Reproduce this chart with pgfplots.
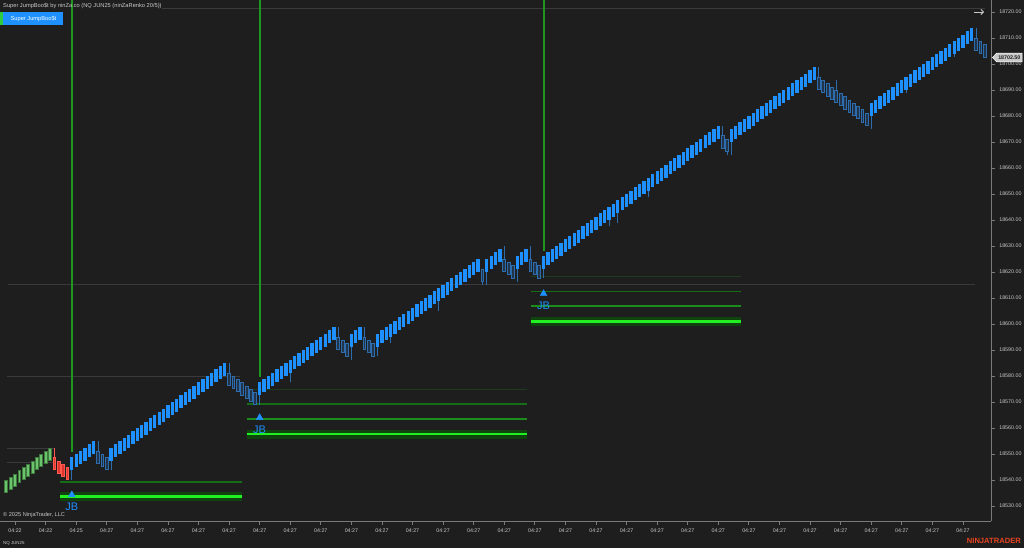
\documentclass[border=0pt]{standalone}
\usepackage{fontspec}
\setmainfont{Liberation Sans}
\usepackage{pgfplots}
\pgfplotsset{compat=1.18}
\usepackage{pgfplotstable}
\usetikzlibrary{arrows.meta}

\definecolor{bg}{HTML}{1E1E1E}
\definecolor{barblue}{HTML}{1E90FF}
\definecolor{holline}{HTML}{2D6CAD}
\definecolor{holfill}{HTML}{22344A}
\definecolor{bargreen}{HTML}{6CC46C}
\definecolor{greenedge}{HTML}{3E7A3E}
\definecolor{barred}{HTML}{E0342E}
\definecolor{rededge}{HTML}{FF5A50}
\definecolor{vgreen}{HTML}{1F961F}
\definecolor{lfaint}{HTML}{203A20}
\definecolor{lmid}{HTML}{156E15}
\definecolor{lline}{HTML}{1C8C1C}
\definecolor{lband}{HTML}{0F440F}
\definecolor{lbright}{HTML}{22F022}
\definecolor{lvl}{HTML}{3A3A3D}
\definecolor{axisgray}{HTML}{7A7A7A}
\definecolor{txt}{HTML}{C8C8C8}
\definecolor{ntorange}{HTML}{E8441E}
\definecolor{btngreen}{HTML}{2ECC40}

% every brick body spans 5 price points = 13pt on this axis (2.6pt per point)
\pgfdeclareplotmark{brickfill}{%
  \pgfpathrectangle{\pgfpoint{-1.65pt}{0pt}}{\pgfpoint{3.3pt}{13pt}}%
  \pgfusepathqfill}
\pgfdeclareplotmark{brickline}{%
  \pgfpathrectangle{\pgfpoint{-1.4pt}{0.4pt}}{\pgfpoint{2.8pt}{12.2pt}}%
  \pgfusepathqfillstroke}

% green up bricks: x, body low, body high
\pgfplotstableread{
x lo hi
0 18535 18540
1 18536.25 18541.25
2 18537.5 18542.5
3 18538.75 18543.75
4 18540 18545
5 18541.25 18546.25
6 18542.5 18547.5
7 18543.75 18548.75
8 18545 18550
9 18546.25 18551.25
10 18547.5 18552.5
}\greenbars

% red down bricks
\pgfplotstableread{
x lo hi
11 18543.75 18548.75
12 18542.5 18547.5
13 18541.25 18546.25
14 18540 18545
}\redbars

% hollow (down) bricks
\pgfplotstableread{
x lo hi
21 18546.25 18551.25
22 18545 18550
23 18543.75 18548.75
51 18576.25 18581.25
52 18575 18580
53 18573.75 18578.75
54 18572.5 18577.5
55 18571.25 18576.25
56 18570 18575
57 18568.75 18573.75
76 18590 18595
77 18588.75 18593.75
78 18587.5 18592.5
82 18590 18595
83 18588.75 18593.75
84 18587.5 18592.5
109 18616.25 18621.25
114 18620 18625
115 18618.75 18623.75
116 18617.5 18622.5
120 18620 18625
121 18618.75 18623.75
122 18617.5 18622.5
164 18667.5 18672.5
165 18666.25 18671.25
186 18690 18695
187 18688.75 18693.75
188 18687.5 18692.5
189 18686.25 18691.25
190 18685 18690
191 18683.75 18688.75
192 18682.5 18687.5
193 18681.25 18686.25
194 18680 18685
195 18678.75 18683.75
196 18677.5 18682.5
197 18676.25 18681.25
222 18705 18710
223 18703.75 18708.75
224 18702.5 18707.5
}\hollowbars

% blue up bricks
\pgfplotstableread{
x lo hi
15 18543.75 18548.75
16 18545 18550
17 18546.25 18551.25
18 18547.5 18552.5
19 18548.75 18553.75
20 18550 18555
24 18547.5 18552.5
25 18548.75 18553.75
26 18550 18555
27 18551.25 18556.25
28 18552.5 18557.5
29 18553.75 18558.75
30 18555 18560
31 18556.25 18561.25
32 18557.5 18562.5
33 18558.75 18563.75
34 18560 18565
35 18561.25 18566.25
36 18562.5 18567.5
37 18563.75 18568.75
38 18565 18570
39 18566.25 18571.25
40 18567.5 18572.5
41 18568.75 18573.75
42 18570 18575
43 18571.25 18576.25
44 18572.5 18577.5
45 18573.75 18578.75
46 18575 18580
47 18576.25 18581.25
48 18577.5 18582.5
49 18578.75 18583.75
50 18580 18585
58 18572.5 18577.5
59 18573.75 18578.75
60 18575 18580
61 18576.25 18581.25
62 18577.5 18582.5
63 18578.75 18583.75
64 18580 18585
65 18581.25 18586.25
66 18582.5 18587.5
67 18583.75 18588.75
68 18585 18590
69 18586.25 18591.25
70 18587.5 18592.5
71 18588.75 18593.75
72 18590 18595
73 18591.25 18596.25
74 18592.5 18597.5
75 18593.75 18598.75
79 18591.25 18596.25
80 18592.5 18597.5
81 18593.75 18598.75
85 18591.25 18596.25
86 18592.5 18597.5
87 18593.75 18598.75
88 18595 18600
89 18596.25 18601.25
90 18597.5 18602.5
91 18598.75 18603.75
92 18600 18605
93 18601.25 18606.25
94 18602.5 18607.5
95 18603.75 18608.75
96 18605 18610
97 18606.25 18611.25
98 18607.5 18612.5
99 18608.75 18613.75
100 18610 18615
101 18611.25 18616.25
102 18612.5 18617.5
103 18613.75 18618.75
104 18615 18620
105 18616.25 18621.25
106 18617.5 18622.5
107 18618.75 18623.75
108 18620 18625
110 18620 18625
111 18621.25 18626.25
112 18622.5 18627.5
113 18623.75 18628.75
117 18621.25 18626.25
118 18622.5 18627.5
119 18623.75 18628.75
123 18621.25 18626.25
124 18622.5 18627.5
125 18623.75 18628.75
126 18625 18630
127 18626.25 18631.25
128 18627.5 18632.5
129 18628.75 18633.75
130 18630 18635
131 18631.25 18636.25
132 18632.5 18637.5
133 18633.75 18638.75
134 18635 18640
135 18636.25 18641.25
136 18637.5 18642.5
137 18638.75 18643.75
138 18640 18645
139 18641.25 18646.25
140 18642.5 18647.5
141 18643.75 18648.75
142 18645 18650
143 18646.25 18651.25
144 18647.5 18652.5
145 18648.75 18653.75
146 18650 18655
147 18651.25 18656.25
148 18652.5 18657.5
149 18653.75 18658.75
150 18655 18660
151 18656.25 18661.25
152 18657.5 18662.5
153 18658.75 18663.75
154 18660 18665
155 18661.25 18666.25
156 18662.5 18667.5
157 18663.75 18668.75
158 18665 18670
159 18666.25 18671.25
160 18667.5 18672.5
161 18668.75 18673.75
162 18670 18675
163 18671.25 18676.25
166 18670 18675
167 18671.25 18676.25
168 18672.5 18677.5
169 18673.75 18678.75
170 18675 18680
171 18676.25 18681.25
172 18677.5 18682.5
173 18678.75 18683.75
174 18680 18685
175 18681.25 18686.25
176 18682.5 18687.5
177 18683.75 18688.75
178 18685 18690
179 18686.25 18691.25
180 18687.5 18692.5
181 18688.75 18693.75
182 18690 18695
183 18691.25 18696.25
184 18692.5 18697.5
185 18693.75 18698.75
198 18680 18685
199 18681.25 18686.25
200 18682.5 18687.5
201 18683.75 18688.75
202 18685 18690
203 18686.25 18691.25
204 18687.5 18692.5
205 18688.75 18693.75
206 18690 18695
207 18691.25 18696.25
208 18692.5 18697.5
209 18693.75 18698.75
210 18695 18700
211 18696.25 18701.25
212 18697.5 18702.5
213 18698.75 18703.75
214 18700 18705
215 18701.25 18706.25
216 18702.5 18707.5
217 18703.75 18708.75
218 18705 18710
219 18706.25 18711.25
220 18707.5 18712.5
221 18708.75 18713.75
}\bluebars

\begin{document}
\begin{tikzpicture}
\useasboundingbox (0pt,0pt) rectangle (1024pt,548pt);
\fill[bg] (0pt,0pt) rectangle (1024pt,548pt);
\begin{axis}[
  at={(0pt,26.5pt)}, anchor=south west, scale only axis,
  width=991.3pt, height=521.5pt,
  xmin=-1.442, xmax=225.5, ymin=18524.04, ymax=18724.615,
  axis x line=bottom, axis y line=right,
  axis line style={-, draw=axisgray, line width=1.2pt},
  ytick={18530,18540,18550,18560,18570,18580,18590,18600,18610,18620,18630,18640,18650,18660,18670,18680,18690,18700,18710,18720},
  yticklabels={18530.00,18540.00,18550.00,18560.00,18570.00,18580.00,18590.00,18600.00,18610.00,18620.00,18630.00,18640.00,18650.00,18660.00,18670.00,18680.00,18690.00,18700.00,18710.00,18720.00},
  xtick={2,9,16,23,30,37,44,51,58,65,72,79,86,93,100,107,114,121,128,135,142,149,156,163,170,177,184,191,198,205,212,219},
  xticklabels={04:22,04:22,04:25,04:27,04:27,04:27,04:27,04:27,04:27,04:27,04:27,04:27,04:27,04:27,04:27,04:27,04:27,04:27,04:27,04:27,04:27,04:27,04:27,04:27,04:27,04:27,04:27,04:27,04:27,04:27,04:27,04:27},
  scaled y ticks=false,
  tick align=outside, major tick length=3.5pt,
  tick style={draw=axisgray, line width=0.8pt},
  yticklabel style={font=\fontsize{5.3}{6}\selectfont, text=txt, xshift=1pt},
  xticklabel style={font=\fontsize{5.3}{6}\selectfont, text=txt},
]
% reference level lines
\addplot[lvl, line width=0.9pt, forget plot] coordinates {(35.6,18721.5) (224,18721.5)};
\addplot[lvl, line width=0.9pt, forget plot] coordinates {(0.4,18615.4) (221.8,18615.4)};
\addplot[lvl, line width=0.9pt, forget plot] coordinates {(0.2,18580) (53.5,18580)};
\addplot[lvl, line width=0.9pt, forget plot] coordinates {(0.2,18552.3) (11.2,18552.3)};
\addplot[lvl, line width=0.9pt, forget plot] coordinates {(0.2,18546.9) (11.2,18546.9)};

% JumpBoost zones
% set 1
\addplot[lmid, line width=1.3pt, forget plot] coordinates {(12.3,18539.2) (54.0,18539.2)};
\addplot[lband, line width=8.7pt, forget plot] coordinates {(12.3,18533.6) (54.0,18533.6)};
\addplot[lbright, line width=2.5pt, forget plot] coordinates {(12.3,18533.7) (54.0,18533.7)};
% set 2
\addplot[lfaint, line width=1pt, forget plot] coordinates {(55.0,18574.9) (119.1,18574.9)};
\addplot[lmid, line width=1.2pt, forget plot] coordinates {(55.0,18569.2) (119.1,18569.2)};
\addplot[lline, line width=1.8pt, forget plot] coordinates {(55.0,18563.5) (119.1,18563.5)};
\addplot[lband, line width=8.7pt, forget plot] coordinates {(55.0,18557.55) (119.1,18557.55)};
\addplot[lbright, line width=2.5pt, forget plot] coordinates {(55.0,18557.6) (119.1,18557.6)};
% set 3
\addplot[lfaint, line width=1pt, forget plot] coordinates {(120.1,18618.2) (168.1,18618.2)};
\addplot[lmid, line width=1.2pt, forget plot] coordinates {(120.1,18612.4) (168.1,18612.4)};
\addplot[lline, line width=1.8pt, forget plot] coordinates {(120.1,18606.8) (168.1,18606.8)};
\addplot[lband, line width=8.7pt, forget plot] coordinates {(120.1,18601.0) (168.1,18601.0)};
\addplot[lbright, line width=2.5pt, forget plot] coordinates {(120.1,18601.0) (168.1,18601.0)};

% signal vertical lines
\addplot[vgreen, line width=1.7pt, forget plot] coordinates {(15,18550.7) (15,18724.615)};
\addplot[vgreen, line width=1.7pt, forget plot] coordinates {(58,18579.7) (58,18724.615)};
\addplot[vgreen, line width=1.7pt, forget plot] coordinates {(123.05,18628.2) (123.05,18724.615)};

% wicks (low to high of each brick that has a tail)
\addplot[holline, line width=1pt, forget plot, unbounded coords=jump] coordinates {
(15,18540) (15,18548.75) (15,nan)
(24,18543.75) (24,18552.5) (24,nan)
(58,18568.75) (58,18577.5) (58,nan)
(65,18577.5) (65,18586.25) (65,nan)
(79,18586.25) (79,18596.25) (79,nan)
(85,18587.5) (85,18596.25) (85,nan)
(88,18592.5) (88,18600) (88,nan)
(99,18605) (99,18613.75) (99,nan)
(110,18615) (110,18625) (110,nan)
(117,18616.25) (117,18626.25) (117,nan)
(123,18617.5) (123,18626.25) (123,nan)
(138,18637.5) (138,18645) (138,nan)
(140,18638.75) (140,18647.5) (140,nan)
(147,18648.75) (147,18656.25) (147,nan)
(166,18665) (166,18675) (166,nan)
(198,18675) (198,18685) (198,nan)
(206,18688.75) (206,18695) (206,nan)
(217,18702.5) (217,18708.75) (217,nan)
(21,18546.25) (21,18555) (21,nan)
(51,18576.25) (51,18585) (51,nan)
(76,18590) (76,18598.75) (76,nan)
(82,18590) (82,18598.75) (82,nan)
(109,18615) (109,18621.25) (109,nan)
(114,18620) (114,18630) (114,nan)
(120,18620) (120,18630) (120,nan)
(164,18667.5) (164,18676.25) (164,nan)
(165,18665) (165,18671.25) (165,nan)
(186,18690) (186,18698.75) (186,nan)
(190,18685) (190,18693.75) (190,nan)
(222,18705) (222,18713.75)
};
\addplot[rededge, line width=1pt, forget plot] coordinates {(11,18543.75) (11,18552.5)};

% bricks (mark anchored at body low)
\addplot[only marks, forget plot, mark=brickline, mark options={draw=greenedge, fill=bargreen, line width=0.8pt}] table[x=x, y=lo] {\greenbars};
\addplot[only marks, forget plot, mark=brickline, mark options={draw=rededge, fill=barred, line width=0.8pt}] table[x=x, y=lo] {\redbars};
\addplot[only marks, forget plot, mark=brickline, mark options={draw=holline, fill=holfill, line width=0.8pt}] table[x=x, y=lo] {\hollowbars};
\addplot[only marks, forget plot, mark=brickfill, mark options={fill=barblue}] table[x=x, y=lo] {\bluebars};

% signal markers
\addplot[only marks, mark=triangle*, mark size=3.9pt, color=barblue, forget plot] coordinates {(15,18534.3) (58,18564.0) (123,18611.7)};
\node[text=barblue, font=\fontsize{11}{12}\selectfont] at (axis cs:15,18529.6) {JB};
\node[text=barblue, font=\fontsize{11}{12}\selectfont] at (axis cs:58,18559.2) {JB};
\node[text=barblue, font=\fontsize{11}{12}\selectfont] at (axis cs:123,18606.9) {JB};
\end{axis}

% header texts
\node[anchor=west, text=txt, font=\fontsize{5.7}{6.5}\selectfont, inner sep=0pt] at (3pt,542pt) {Super JumpBoo\$t by ninZa.co (NQ JUN25 (ninZaRenko 20/5))};
\fill[btngreen] (0pt,523pt) rectangle (3.3pt,536pt);
\fill[barblue] (3.3pt,523pt) rectangle (63.3pt,536pt);
\node[text=white, font=\fontsize{5.7}{6.5}\selectfont, inner sep=0pt] at (33.5pt,529.5pt) {Super JumpBoo\$t};
% footer texts
\node[anchor=west, text=txt, font=\fontsize{5.6}{6.5}\selectfont, inner sep=0pt] at (3pt,33pt) {© 2025 NinjaTrader, LLC};
\node[anchor=west, text=txt, font=\fontsize{4.4}{5}\selectfont, inner sep=0pt] at (3pt,5pt) {NQ JUN25};
\node[anchor=east, text=ntorange, font=\bfseries\fontsize{7.6}{8}\selectfont, inner sep=0pt] at (1021pt,7pt) {NINJATRADER};
% price marker
\filldraw[fill=txt, draw=white, line width=0.5pt] (992.5pt,490.5pt) -- (996.5pt,494.8pt) -- (1022pt,494.8pt) -- (1022pt,486.2pt) -- (996.5pt,486.2pt) -- cycle;
\node[text=bg, font=\bfseries\fontsize{5.3}{6}\selectfont, inner sep=0pt] at (1009.3pt,490.5pt) {18702.50};
% arrow icon
\draw[-{Straight Barb[length=2.5pt,width=5pt]}, draw=txt, line width=0.9pt] (974pt,536pt) -- (984pt,536pt);
\end{tikzpicture}
\end{document}
